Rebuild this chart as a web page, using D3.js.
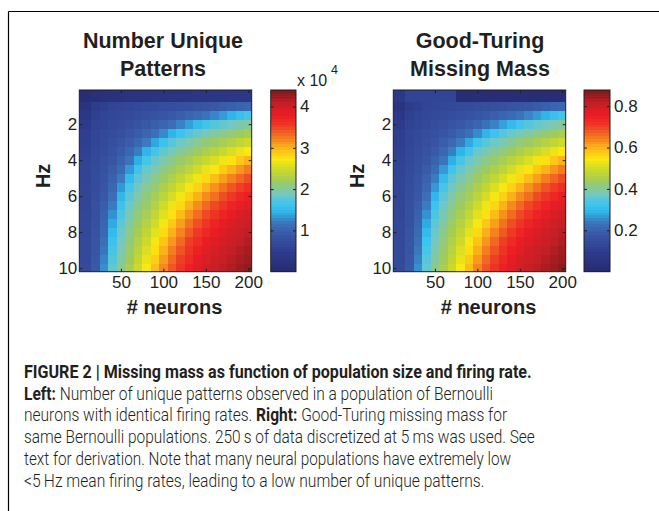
<!DOCTYPE html>
<html>
<head>
<meta charset="utf-8">
<script src="https://cdn.jsdelivr.net/npm/d3@7"></script>
<style>
  body { margin: 0; background: #fff; }
  svg { display: block; }
  text { font-family: "Liberation Sans", Arial, Helvetica, sans-serif; fill: #231f20; }
  .caption text { font-family: Roboto, "Liberation Sans", Arial, sans-serif; }
</style>
</head>
<body>
<svg id="fig" width="659" height="511"></svg>
<script>
// ---- data ---------------------------------------------------------------
// population size (columns) and firing rate (rows)
const neurons = [10, 20, 30, 40, 50, 60, 70, 80, 90, 100, 110, 120, 130, 140, 150, 160, 170, 180, 190, 200];
const rateHz = [0.5, 1, 1.5, 2, 2.5, 3, 3.5, 4, 4.5, 5, 5.5, 6, 6.5, 7, 7.5, 8, 8.5, 9, 9.5, 10];

// number of unique patterns, in units of 10^4 (one row per firing rate)
const uniquePatterns = [
  [0.12,0.16,0.19,0.21,0.23,0.24,0.25,0.26,0.27,0.28,0.29,0.30,0.31,0.32,0.33,0.34,0.34,0.35,0.36,0.37],
  [0.28,0.47,0.53,0.60,0.62,0.65,0.67,0.70,0.72,0.75,0.77,0.79,0.82,0.85,0.88,0.91,0.95,0.99,1.03,1.06],
  [0.37,0.53,0.61,0.65,0.68,0.72,0.75,0.79,0.83,0.88,0.92,0.98,1.04,1.10,1.18,1.26,1.35,1.46,1.58,1.66],
  [0.46,0.59,0.64,0.69,0.74,0.79,0.84,0.90,0.97,1.05,1.14,1.25,1.37,1.52,1.64,1.74,1.82,1.88,1.94,2.00],
  [0.50,0.62,0.68,0.74,0.80,0.87,0.95,1.04,1.15,1.28,1.46,1.62,1.74,1.84,1.91,1.99,2.06,2.12,2.18,2.24],
  [0.52,0.64,0.71,0.78,0.86,0.96,1.07,1.22,1.40,1.61,1.75,1.86,1.95,2.03,2.11,2.18,2.25,2.33,2.40,2.48],
  [0.55,0.66,0.74,0.83,0.93,1.06,1.23,1.46,1.66,1.82,1.92,2.02,2.11,2.19,2.27,2.36,2.45,2.54,2.64,2.73],
  [0.58,0.68,0.78,0.88,1.02,1.19,1.43,1.67,1.84,1.95,2.06,2.15,2.25,2.35,2.45,2.55,2.66,2.77,2.89,3.00],
  [0.60,0.70,0.81,0.94,1.11,1.34,1.63,1.83,1.95,2.07,2.18,2.28,2.39,2.51,2.63,2.75,2.88,3.00,3.13,3.25],
  [0.61,0.73,0.85,1.00,1.22,1.53,1.78,1.93,2.06,2.18,2.29,2.42,2.54,2.67,2.81,2.95,3.09,3.23,3.35,3.46],
  [0.62,0.74,0.88,1.06,1.34,1.67,1.87,2.03,2.15,2.28,2.41,2.55,2.69,2.84,3.00,3.15,3.29,3.42,3.53,3.64],
  [0.63,0.76,0.91,1.14,1.48,1.78,1.96,2.11,2.24,2.38,2.53,2.68,2.85,3.01,3.18,3.31,3.46,3.58,3.69,3.78],
  [0.64,0.78,0.96,1.22,1.61,1.86,2.04,2.18,2.33,2.49,2.65,2.82,3.00,3.18,3.33,3.48,3.60,3.72,3.81,3.89],
  [0.65,0.80,1.00,1.31,1.70,1.93,2.10,2.25,2.42,2.59,2.77,2.96,3.15,3.32,3.47,3.61,3.73,3.83,3.91,3.98],
  [0.66,0.82,1.04,1.41,1.79,1.99,2.17,2.33,2.51,2.69,2.89,3.09,3.29,3.45,3.59,3.72,3.83,3.91,3.99,4.05],
  [0.67,0.84,1.09,1.52,1.85,2.06,2.23,2.41,2.60,2.80,3.01,3.22,3.40,3.56,3.70,3.81,3.91,3.99,4.05,4.11],
  [0.68,0.86,1.14,1.61,1.90,2.11,2.29,2.48,2.69,2.91,3.13,3.33,3.52,3.66,3.79,3.89,3.98,4.04,4.10,4.16],
  [0.68,0.88,1.20,1.68,1.95,2.16,2.35,2.56,2.78,3.01,3.24,3.43,3.60,3.75,3.86,3.96,4.03,4.09,4.15,4.21],
  [0.69,0.90,1.25,1.74,2.00,2.20,2.41,2.63,2.87,3.11,3.33,3.52,3.68,3.82,3.92,4.01,4.07,4.14,4.20,4.25],
  [0.70,0.92,1.30,1.80,2.05,2.25,2.47,2.70,2.95,3.20,3.42,3.60,3.76,3.88,3.98,4.05,4.12,4.18,4.24,4.30]
];

// Good-Turing missing mass (one row per firing rate)
const missingMass = [
  [0.080,0.120,0.120,0.120,0.120,0.120,0.120,0.020,0.020,0.020,0.020,0.020,0.020,0.020,0.020,0.020,0.020,0.020,0.020,0.020],
  [0.056,0.094,0.106,0.120,0.124,0.130,0.134,0.140,0.144,0.150,0.154,0.158,0.164,0.170,0.176,0.182,0.190,0.198,0.206,0.212],
  [0.074,0.106,0.122,0.130,0.136,0.144,0.150,0.158,0.166,0.176,0.184,0.196,0.208,0.220,0.236,0.252,0.270,0.292,0.316,0.332],
  [0.092,0.118,0.128,0.138,0.148,0.158,0.168,0.180,0.194,0.210,0.228,0.250,0.274,0.304,0.328,0.348,0.364,0.376,0.388,0.400],
  [0.100,0.124,0.136,0.148,0.160,0.174,0.190,0.208,0.230,0.256,0.292,0.324,0.348,0.368,0.382,0.398,0.412,0.424,0.436,0.448],
  [0.104,0.128,0.142,0.156,0.172,0.192,0.214,0.244,0.280,0.322,0.350,0.372,0.390,0.406,0.422,0.436,0.450,0.466,0.480,0.496],
  [0.110,0.132,0.148,0.166,0.186,0.212,0.246,0.292,0.332,0.364,0.384,0.404,0.422,0.438,0.454,0.472,0.490,0.508,0.528,0.546],
  [0.116,0.136,0.156,0.176,0.204,0.238,0.286,0.334,0.368,0.390,0.412,0.430,0.450,0.470,0.490,0.510,0.532,0.554,0.578,0.600],
  [0.120,0.140,0.162,0.188,0.222,0.268,0.326,0.366,0.390,0.414,0.436,0.456,0.478,0.502,0.526,0.550,0.576,0.600,0.626,0.650],
  [0.122,0.146,0.170,0.200,0.244,0.306,0.356,0.386,0.412,0.436,0.458,0.484,0.508,0.534,0.562,0.590,0.618,0.646,0.670,0.692],
  [0.124,0.148,0.176,0.212,0.268,0.334,0.374,0.406,0.430,0.456,0.482,0.510,0.538,0.568,0.600,0.630,0.658,0.684,0.706,0.728],
  [0.126,0.152,0.182,0.228,0.296,0.356,0.392,0.422,0.448,0.476,0.506,0.536,0.570,0.602,0.636,0.662,0.692,0.716,0.738,0.756],
  [0.128,0.156,0.192,0.244,0.322,0.372,0.408,0.436,0.466,0.498,0.530,0.564,0.600,0.636,0.666,0.696,0.720,0.744,0.762,0.778],
  [0.130,0.160,0.200,0.262,0.340,0.386,0.420,0.450,0.484,0.518,0.554,0.592,0.630,0.664,0.694,0.722,0.746,0.766,0.782,0.796],
  [0.132,0.164,0.208,0.282,0.358,0.398,0.434,0.466,0.502,0.538,0.578,0.618,0.658,0.690,0.718,0.744,0.766,0.782,0.798,0.810],
  [0.134,0.168,0.218,0.304,0.370,0.412,0.446,0.482,0.520,0.560,0.602,0.644,0.680,0.712,0.740,0.762,0.782,0.798,0.810,0.822],
  [0.136,0.172,0.228,0.322,0.380,0.422,0.458,0.496,0.538,0.582,0.626,0.666,0.704,0.732,0.758,0.778,0.796,0.808,0.820,0.832],
  [0.136,0.176,0.240,0.336,0.390,0.432,0.470,0.512,0.556,0.602,0.648,0.686,0.720,0.750,0.772,0.792,0.806,0.818,0.830,0.842],
  [0.138,0.180,0.250,0.348,0.400,0.440,0.482,0.526,0.574,0.622,0.666,0.704,0.736,0.764,0.784,0.802,0.814,0.828,0.840,0.850],
  [0.140,0.184,0.260,0.360,0.410,0.450,0.494,0.540,0.590,0.640,0.684,0.720,0.752,0.776,0.796,0.810,0.824,0.836,0.848,0.860]
];

const hzTicks = [2, 4, 6, 8, 10];
const neuronTicks = [50, 100, 150, 200];
const uniqueBarTicks = [1, 2, 3, 4];
const massBarTicks = [0.2, 0.4, 0.6, 0.8];
const uniqueRange = [0, 4.4];
const massRange = [0, 0.878];

// ---- styling --------------------------------------------------------------
const jetStops  = [0.00, 0.10, 0.20, 0.27, 0.33, 0.37, 0.43, 0.50, 0.56, 0.62, 0.68, 0.74, 0.80, 0.86, 0.93, 1.00];
const jetColors = ["#262a6e", "#2d3a8c", "#3855a4", "#3b73ba", "#2fb4e9", "#3dc4ee", "#74c8c2", "#a0cb5c",
                   "#c9d92b", "#fde910", "#fbb619", "#f47b20", "#ee3f25", "#ed1c24", "#c41f26", "#7a1718"];
const ink = "#231f20";
const tickFont = 17;

const svg = d3.select("#fig");

// outer figure frame (top and left rules)
svg.append("line").attr("x1", 8.5).attr("x2", 659).attr("y1", 11.5).attr("y2", 11.5)
   .attr("stroke", "#000").attr("stroke-width", 1.2);
svg.append("line").attr("x1", 8.5).attr("x2", 8.5).attr("y1", 11.5).attr("y2", 511)
   .attr("stroke", "#000").attr("stroke-width", 1.2);

function cellEdges(vals, lo, hi) {
  return vals.map((v, i) => [
    i === 0 ? lo : (vals[i - 1] + v) / 2,
    i === vals.length - 1 ? hi : (v + vals[i + 1]) / 2
  ]);
}

function drawPanel(cfg) {
  const { left, right, top, bottom, values, range, titleLines, titleCx,
          barLeft, barRight, barTicks, barFormat, id } = cfg;

  const x = d3.scaleLinear().domain([1, 204]).range([left, right]);
  const y = d3.scaleLinear().domain([0.1, 10.2]).range([top, bottom]);
  const color = d3.scaleLinear()
    .domain(jetStops.map(s => range[0] + s * (range[1] - range[0])))
    .range(jetColors).clamp(true);

  const g = svg.append("g");

  svg.append("clipPath").attr("id", "clip-" + id)
    .append("rect").attr("x", left).attr("y", top)
    .attr("width", right - left).attr("height", bottom - top);

  const colE = cellEdges(neurons, 1, 204);
  const rowE = cellEdges(rateHz, 0.1, 10.2);
  const cells = [];
  rateHz.forEach((hz, r) => neurons.forEach((n, c) => cells.push({ r, c, v: values[r][c] })));

  g.append("g").attr("clip-path", `url(#clip-${id})`)
    .selectAll("rect").data(cells).join("rect")
    .attr("x", d => x(colE[d.c][0]))
    .attr("y", d => y(rowE[d.r][0]))
    .attr("width", d => x(colE[d.c][1]) - x(colE[d.c][0]) + 0.6)
    .attr("height", d => y(rowE[d.r][1]) - y(rowE[d.r][0]) + 0.6)
    .attr("fill", d => color(d.v))
    .attr("shape-rendering", "crispEdges");

  // axes: ticks point inwards on all four sides
  g.append("g").attr("transform", `translate(${left},0)`)
    .call(d3.axisLeft(y).tickValues(hzTicks).tickSize(-3).tickPadding(2));
  g.append("g").attr("transform", `translate(0,${bottom})`)
    .call(d3.axisBottom(x).tickValues(neuronTicks).tickSize(-3).tickPadding(4));
  g.append("g").attr("transform", `translate(${right},0)`)
    .call(d3.axisRight(y).tickValues(hzTicks).tickSize(-3).tickFormat(""));
  g.append("g").attr("transform", `translate(0,${top})`)
    .call(d3.axisTop(x).tickValues(neuronTicks).tickSize(-3).tickFormat(""));
  g.selectAll(".domain").remove();
  g.selectAll(".tick line").attr("stroke", ink);
  g.selectAll(".tick text").attr("font-size", tickFont).attr("fill", ink)
    .style("font-family", '"Liberation Sans", Arial, sans-serif');

  g.append("rect").attr("x", left).attr("y", top)
    .attr("width", right - left).attr("height", bottom - top)
    .attr("fill", "none").attr("stroke", ink).attr("stroke-width", 1);

  // titles and axis labels
  titleLines.forEach((t, i) => {
    g.append("text").attr("x", titleCx).attr("y", 47.5 + i * 28)
      .attr("text-anchor", "middle").attr("font-size", 21.5).attr("font-weight", "bold").text(t);
  });
  g.append("text").attr("x", (left + right) / 2 + 9).attr("y", 314)
    .attr("text-anchor", "middle").attr("font-size", 20).attr("font-weight", "bold").text("# neurons");
  g.append("text").attr("transform", `translate(${left - 29.5},${(top + bottom) / 2 - 5}) rotate(-90)`)
    .attr("text-anchor", "middle").attr("font-size", 20).attr("font-weight", "bold").text("Hz");

  // colour bar
  const cb = d3.scaleLinear().domain(range).range([bottom, top]);
  const step = (range[1] - range[0]) / 64;
  const levels = d3.range(64).map(i => range[0] + (i + 0.5) * step);
  const bar = svg.append("g");
  bar.selectAll("rect").data(levels).join("rect")
    .attr("x", barLeft).attr("width", barRight - barLeft)
    .attr("y", d => cb(d + step / 2))
    .attr("height", d => cb(d - step / 2) - cb(d + step / 2) + 0.5)
    .attr("fill", d => color(d))
    .attr("shape-rendering", "crispEdges");
  bar.append("g").attr("transform", `translate(${barRight},0)`)
    .call(d3.axisRight(cb).tickValues(barTicks).tickSize(-3).tickPadding(4).tickFormat(barFormat));
  bar.append("g").attr("transform", `translate(${barLeft},0)`)
    .call(d3.axisLeft(cb).tickValues(barTicks).tickSize(-3).tickFormat(""));
  bar.selectAll(".domain").remove();
  bar.selectAll(".tick line").attr("stroke", ink);
  bar.selectAll(".tick text").attr("font-size", tickFont).attr("fill", ink)
    .style("font-family", '"Liberation Sans", Arial, sans-serif');
  bar.append("rect").attr("x", barLeft).attr("y", top)
    .attr("width", barRight - barLeft).attr("height", bottom - top)
    .attr("fill", "none").attr("stroke", ink).attr("stroke-width", 1);
}

drawPanel({
  id: "unique", left: 79.3, right: 251.7, top: 90, bottom: 271.7,
  values: uniquePatterns, range: uniqueRange,
  titleLines: ["Number Unique", "Patterns"], titleCx: 163,
  barLeft: 270.7, barRight: 296, barTicks: uniqueBarTicks, barFormat: d3.format("d")
});
drawPanel({
  id: "mass", left: 393.3, right: 565.7, top: 90, bottom: 271.7,
  values: missingMass, range: massRange,
  titleLines: ["Good-Turing", "Missing Mass"], titleCx: 480,
  barLeft: 584, barRight: 610, barTicks: massBarTicks, barFormat: d3.format(".1f")
});

// colour-bar exponent for the pattern counts
const expo = svg.append("text").attr("x", 297).attr("y", 86).attr("font-size", 16);
expo.append("tspan").text("x 10");
expo.append("tspan").attr("x", 331).attr("y", 73.5).attr("font-size", 12.5).text("4");

// ---- caption --------------------------------------------------------------
const captionLines = [
  { parts: [["FIGURE 2 | Missing mass as function of population size and firing rate.", true]], end: 532, size: 18 },
  { parts: [["Left:", true], [" Number of unique patterns observed in a population of Bernoulli", false]], end: 493.5, size: 17.5 },
  { parts: [["neurons with identical firing rates. ", false], ["Right:", true], [" Good-Turing missing mass for", false]], end: 508, size: 17.5 },
  { parts: [["same Bernoulli populations. 250\u2009s of data discretized at 5\u2009ms was used. See", false]], end: 535, size: 17.5 },
  { parts: [["text for derivation. Note that many neural populations have extremely low", false]], end: 511.5, size: 17.5 },
  { parts: [["<5\u2009Hz mean firing rates, leading to a low number of unique patterns.", false]], end: 485, size: 17.5 }
];
const captionBase = [377.5, 399.5, 421.3, 443, 464.8, 486.5];
const captionLeft = 24;
const cap = svg.append("g").attr("class", "caption");
captionLines.forEach((ln, i) => {
  const t = cap.append("text").attr("x", 0).attr("y", 0).attr("font-size", ln.size);
  ln.parts.forEach(([s, b]) => {
    t.append("tspan").attr("font-weight", b ? "bold" : 300).text(s);
  });
  // condense each line horizontally so it spans the same measure as the print
  const w = t.node().getComputedTextLength();
  const sx = (ln.end - captionLeft) / w;
  t.attr("transform", `translate(${captionLeft},${captionBase[i]}) scale(${sx},1)`);
});
</script>
</body>
</html>
